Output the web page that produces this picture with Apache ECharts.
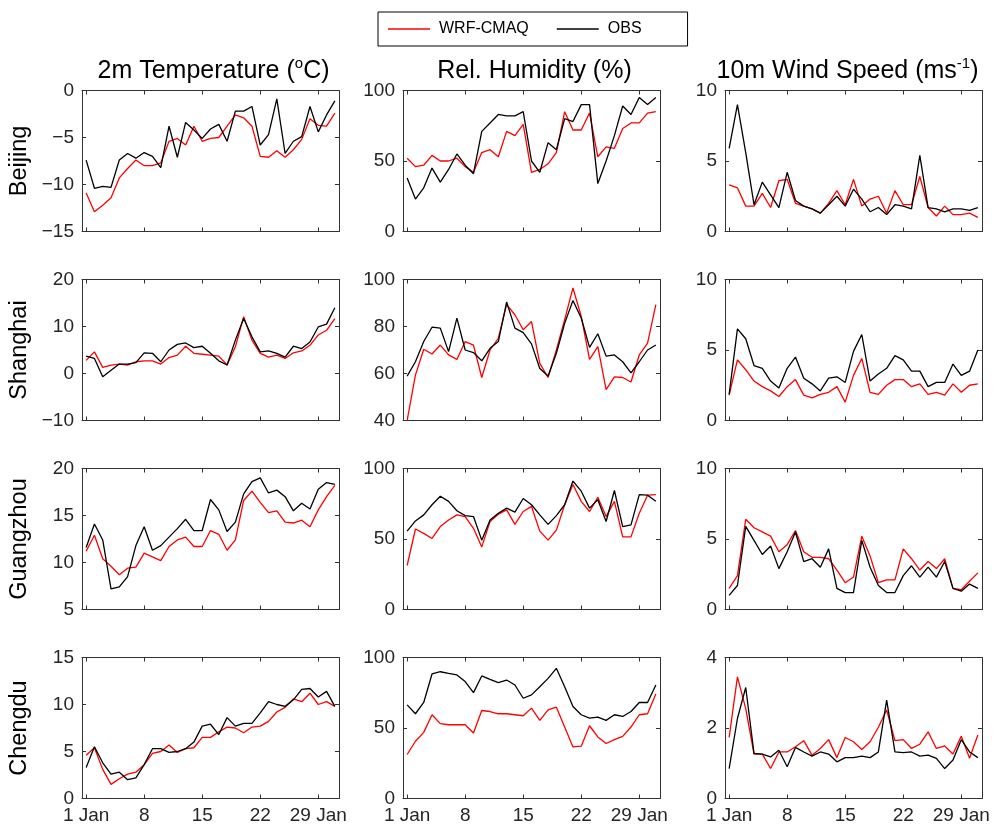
<!DOCTYPE html>
<html><head><meta charset="utf-8">
<script src="https://cdn.jsdelivr.net/npm/echarts@6/dist/echarts.min.js"></script>
<style>html,body{margin:0;padding:0;background:#fff}#c{width:1003px;height:833px}</style>
</head><body><div id="c"></div>
<script>
// ---- data ----
const days = [1,2,3,4,5,6,7,8,9,10,11,12,13,14,15,16,17,18,19,20,21,22,23,24,25,26,27,28,29,30,31];
const tickLabels = {1:'1 Jan', 8:'8', 15:'15', 22:'22', 29:'29 Jan'};
const cities = ['Beijing','Shanghai','Guangzhou','Chengdu'];
const seriesNames = ['WRF-CMAQ','OBS'];

const bjTempWrf = [-10.9,-12.9,-12.2,-11.4,-9.3,-8.3,-7.4,-8.0,-8.0,-7.7,-5.4,-5.1,-5.8,-3.8,-5.4,-5.1,-5.0,-3.8,-2.6,-2.9,-3.8,-7.0,-7.1,-6.4,-7.1,-6.3,-5.2,-3.0,-3.7,-3.8,-2.4];
const bjTempObs = [-7.4,-10.4,-10.2,-10.3,-7.4,-6.7,-7.2,-6.6,-7.0,-8.2,-3.8,-7.1,-3.4,-4.2,-5.1,-4.1,-3.6,-5.4,-2.2,-2.2,-1.7,-5.8,-4.7,-0.9,-6.7,-5.4,-4.9,-1.7,-4.4,-2.6,-1.1];
const bjRhWrf = [52,46,47,54,50,50,52,46,42,56,58,53,71,68,76,42,44,48,56,85,72,72,84,53,60,59,73,77,77,84,85];
const bjRhObs = [38,23,31,45,35,44,55,47,41,71,77,83,82,82,85,50,42,63,58,80,78,90,90,34,50,68,89,83,95,90,95];
const bjWindWrf = [3.3,3.1,1.8,1.8,2.7,1.7,3.6,3.7,2.0,1.8,1.6,1.3,2.0,2.9,1.9,3.7,1.8,2.3,2.5,1.3,2.9,1.9,1.9,3.9,1.7,1.1,1.8,1.2,1.2,1.3,1.0];
const bjWindObs = [5.9,9.0,5.6,1.9,3.5,2.6,1.7,4.2,2.2,1.8,1.6,1.3,1.9,2.5,1.8,3.0,2.3,1.4,1.7,1.2,1.9,1.8,1.6,5.4,1.7,1.6,1.4,1.6,1.6,1.5,1.7];

const shTempWrf = [2.8,4.6,1.3,1.8,2.0,1.8,2.5,2.7,2.7,2.0,3.4,3.9,5.8,4.3,4.1,3.9,3.7,1.8,5.7,12.1,7.1,4.3,3.5,3.9,3.2,4.4,4.8,6.0,8.2,9.2,11.7];
const shTempObs = [3.7,3.2,-0.7,0.7,2.0,2.0,2.3,4.4,4.3,2.5,5.0,6.2,6.5,5.5,5.8,4.3,2.7,1.8,7.1,11.7,7.8,4.6,4.8,4.3,3.5,5.8,5.3,6.7,9.9,10.5,14.0];
const shRhWrf = [40,59.3,70.3,68.3,72.1,67.9,66,73.6,72.1,58.3,70,75,89.3,85,78.6,82.1,64.3,58.3,70,82.9,96.4,84.3,66,71.4,53.1,58.6,58.3,56.4,67.9,72.9,89.3];
const shRhObs = [58.9,65,73.6,79.7,79.3,69.3,83.6,70,68.9,65.4,70.7,73.6,90.4,79.3,77.4,72.6,62.1,58.9,68.6,81.4,91.1,83.6,71.1,76.9,67.4,67.9,65,60.3,65,70,72.1];
const shWindWrf = [1.8,4.3,3.6,2.8,2.4,2.1,1.7,2.4,2.9,1.8,1.6,1.85,2.0,2.4,1.3,3.2,4.4,2.0,1.85,2.5,2.9,2.9,2.4,2.6,1.85,2.0,1.8,2.6,2.0,2.5,2.6];
const shWindObs = [1.85,6.5,5.8,3.9,3.7,2.8,2.3,3.7,4.5,3.0,2.6,2.1,3.0,3.1,2.7,4.9,6.1,2.8,3.3,3.7,4.6,4.3,3.5,3.5,2.4,2.7,2.7,4.0,3.2,3.5,5.0];

const gzTempWrf = [11.2,12.9,10.4,9.6,8.7,9.4,9.5,11.0,10.6,10.2,11.7,12.4,12.7,11.7,11.7,13.4,13.0,11.3,12.4,16.6,17.6,16.4,15.3,15.5,14.3,14.2,14.5,13.8,15.6,17.0,18.2];
const gzTempObs = [11.6,14.1,12.4,7.2,7.4,8.5,11.8,13.8,11.3,11.8,12.7,13.6,14.6,13.4,13.4,16.7,15.6,13.3,14.3,17.3,18.6,19.0,17.4,17.7,17.0,15.5,16.3,15.7,17.8,18.5,18.3];
const gzRhWrf = [31.2,57.1,54,50.4,58.8,63.5,67.1,65.9,57.6,44.4,62.4,67.6,70.7,60.4,69.5,73.1,55.6,49.2,56.3,74.3,88.7,76.7,69.5,79.6,65.9,76.7,51.5,51.5,68.3,81.1,81.5];
const gzRhObs = [55.6,62.8,67.1,74.3,80.3,76.7,70,66.6,65.9,49.2,63.5,68.3,71.9,69.1,78.7,74.3,67.1,60.4,66.6,74.3,91.1,83.9,71.9,77.9,62.4,84.4,58.8,60,81.5,81.1,76.7];
const gzWindWrf = [1.5,2.4,6.4,5.8,5.5,5.2,4.1,4.6,5.6,4.1,3.7,3.7,3.6,2.8,1.9,2.3,5.2,3.8,1.9,2.1,2.1,4.3,3.6,2.8,3.4,2.9,3.6,1.5,1.4,2.0,2.6];
const gzWindObs = [1.0,1.7,5.9,4.9,3.9,4.5,2.9,4.1,5.5,3.4,3.6,3.0,4.3,1.5,1.2,1.2,4.9,3.0,1.7,1.2,1.2,2.4,3.1,2.3,3.0,2.3,3.4,1.5,1.3,1.8,1.5];

const cdTempWrf = [4.6,5.4,3.1,1.5,2.1,2.6,2.8,3.6,4.8,5.0,5.7,4.9,5.3,5.4,6.5,6.5,7.1,7.6,7.5,7.0,7.6,7.7,8.2,9.2,9.7,10.6,10.3,11.2,10.0,10.3,9.8];
const cdTempObs = [3.3,5.5,3.8,2.6,2.8,2.0,2.2,3.6,5.3,5.3,4.9,5.0,5.3,6.0,7.7,7.9,6.8,8.6,7.7,8.0,8.0,9.1,10.3,10.0,9.8,10.5,11.6,11.7,10.8,11.4,9.8];
const cdRhWrf = [31.2,40.6,46.9,59.4,53.1,52.3,52.3,52.3,46.5,62.4,61.7,60.1,60.1,59.4,58.7,64.1,55.4,62.9,64.8,50.7,36.6,37.1,51.6,43.7,39.0,41.8,44.1,50.7,59.4,60.1,74.2];
const cdRhObs = [66.4,60.1,68.1,88.3,89.9,88.7,87.6,82.9,75.1,86.9,84.5,82.2,84.0,80.5,71.1,73.5,79.3,85.2,92.3,79.3,65.3,59.4,57.0,57.7,55.4,59.4,58.2,61.7,68.1,68.1,80.5];
const cdWindWrf = [1.73,3.45,2.55,1.26,1.26,0.85,1.32,1.32,1.47,1.64,1.23,1.42,1.67,1.16,1.73,1.61,1.39,1.61,2.02,2.51,1.64,1.67,1.42,1.54,1.89,1.42,1.49,1.26,1.77,1.14,1.80];
const cdWindObs = [0.85,2.27,3.15,1.28,1.26,1.18,1.37,0.90,1.45,1.32,1.20,1.32,1.26,1.04,1.16,1.16,1.20,1.16,1.32,2.79,1.32,1.30,1.32,1.20,1.23,1.14,0.85,1.09,1.67,1.32,1.16];

// ---- layout / style ----
const lefts = [82, 403, 725];
const tops = [90.5, 279.5, 468.5, 657.5];
const W = 257, H = 141;
const axisColor = '#333';
const labelColor = '#262626';
const fontFam = 'Liberation Sans, Arial, sans-serif';

const panels = [
  {wrf: bjTempWrf, obs: bjTempObs, min: -15, max: 0, step: 5},
  {wrf: bjRhWrf, obs: bjRhObs, min: 0, max: 100, step: 50},
  {wrf: bjWindWrf, obs: bjWindObs, min: 0, max: 10, step: 5},
  {wrf: shTempWrf, obs: shTempObs, min: -10, max: 20, step: 10},
  {wrf: shRhWrf, obs: shRhObs, min: 40, max: 100, step: 20},
  {wrf: shWindWrf, obs: shWindObs, min: 0, max: 10, step: 5},
  {wrf: gzTempWrf, obs: gzTempObs, min: 5, max: 20, step: 5},
  {wrf: gzRhWrf, obs: gzRhObs, min: 0, max: 100, step: 50},
  {wrf: gzWindWrf, obs: gzWindObs, min: 0, max: 10, step: 5},
  {wrf: cdTempWrf, obs: cdTempObs, min: 0, max: 15, step: 5},
  {wrf: cdRhWrf, obs: cdRhObs, min: 0, max: 100, step: 50},
  {wrf: cdWindWrf, obs: cdWindObs, min: 0, max: 4, step: 2}
];

const grid = [], xAxis = [], yAxis = [], series = [];
const showTick = (i) => (days[i] - 1) % 7 === 0;
panels.forEach((p, k) => {
  const r = Math.floor(k / 3), c = k % 3;
  grid.push({left: lefts[c], top: tops[r], width: W, height: H});
  const xBase = {
    type: 'category', gridIndex: k, data: days.map(String), boundaryGap: true,
    axisLine: {show: true, onZero: false, lineStyle: {color: axisColor, width: 1}},
    axisTick: {show: true, inside: true, length: 4, alignWithLabel: true, interval: showTick, lineStyle: {color: axisColor}},
    splitLine: {show: false}
  };
  xAxis.push(Object.assign({}, xBase, {
    position: 'bottom',
    axisLabel: {show: r === 3, interval: showTick, formatter: (v) => tickLabels[v] || '',
      fontSize: 19, color: labelColor, fontFamily: fontFam, margin: 8}
  }));
  xAxis.push(Object.assign({}, xBase, {position: 'top', axisLabel: {show: false}}));
  const yBase = {
    type: 'value', gridIndex: k, min: p.min, max: p.max, interval: p.step,
    axisLine: {show: true, lineStyle: {color: axisColor, width: 1}},
    axisTick: {show: true, inside: true, length: 4, lineStyle: {color: axisColor}},
    splitLine: {show: false}
  };
  const yLeft = Object.assign({}, yBase, {
    position: 'left',
    axisLabel: {show: true, fontSize: 19, color: labelColor, fontFamily: fontFam, margin: 8,
      formatter: (v) => String(v).replace('-', '\u2212')}
  });
  if (c === 0) {
    Object.assign(yLeft, {name: cities[r], nameLocation: 'middle', nameRotate: 90, nameGap: 50,
      nameTextStyle: {fontSize: 23.5, color: '#000', fontFamily: fontFam}});
  }
  yAxis.push(yLeft);
  yAxis.push(Object.assign({}, yBase, {position: 'right', axisLabel: {show: false}}));
  series.push({name: seriesNames[0], type: 'line', xAxisIndex: 2 * k, yAxisIndex: 2 * k, data: p.wrf,
    symbol: 'none', lineStyle: {color: '#ff0000', width: 1.3}, itemStyle: {color: '#ff0000'}, animation: false});
  series.push({name: seriesNames[1], type: 'line', xAxisIndex: 2 * k, yAxisIndex: 2 * k, data: p.obs,
    symbol: 'none', lineStyle: {color: '#000000', width: 1.3}, itemStyle: {color: '#000000'}, animation: false});
});

const titleRich = {
  n: {fontSize: 25, fontFamily: fontFam, fill: '#000', color: '#000', lineHeight: 30},
  s: {fontSize: 15, fontFamily: fontFam, fill: '#000', color: '#000', lineHeight: 30, verticalAlign: 'top'}
};
const colTitles = ['{n|2m Temperature (}{s|o}{n|C)}', '{n|Rel. Humidity (%)}', '{n|10m Wind Speed (ms}{s|-1}{n|)}'];
const graphic = colTitles.map((t, c) => ({
  type: 'text', x: lefts[c] + W / 2 + (c === 2 ? -6 : 3), y: 71,
  style: {text: t, align: 'center', verticalAlign: 'middle', rich: titleRich, fill: '#000'}
}));

const chart = echarts.init(document.getElementById('c'), null, {renderer: 'canvas'});
chart.setOption({
  backgroundColor: '#fff',
  animation: false,
  legend: {
    data: seriesNames, left: 378, top: 12, icon: 'rect', itemWidth: 42, itemHeight: 1.5, itemGap: 28,
    borderColor: '#000', borderWidth: 1, borderRadius: 0, padding: [9, 46, 9, 10],
    textStyle: {fontSize: 16, color: '#000', fontFamily: fontFam, padding: [0, 0, 0, 4]}
  },
  grid, xAxis, yAxis, series, graphic
});
</script></body></html>
